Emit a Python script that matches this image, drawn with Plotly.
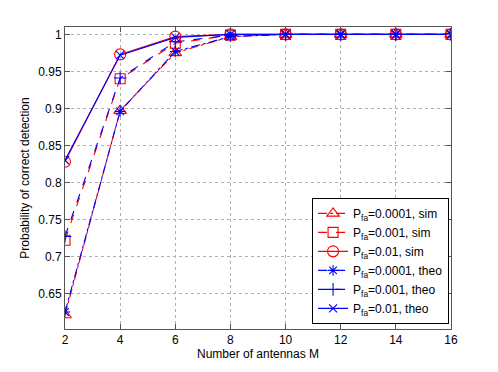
import plotly.graph_objects as go

# Number of antennas
M = [2, 4, 6, 8, 10, 12, 14, 16]

# simulated detection probability
sim_0001 = [0.621, 0.897, 0.975, 0.997, 1.0, 1.0, 1.0, 1.0]
sim_001 = [0.722, 0.940, 0.988, 0.999, 1.0, 1.0, 1.0, 1.0]
sim_01 = [0.828, 0.973, 0.997, 1.0, 1.0, 1.0, 1.0, 1.0]

# theoretical detection probability
theo_0001 = [0.625, 0.896, 0.977, 0.997, 1.0, 1.0, 1.0, 1.0]
theo_001 = [0.727, 0.941, 0.990, 0.999, 1.0, 1.0, 1.0, 1.0]
theo_01 = [0.830, 0.972, 0.996, 1.0, 1.0, 1.0, 1.0, 1.0]

y_ticks = [0.65, 0.7, 0.75, 0.8, 0.85, 0.9, 0.95, 1]
y_labels = ['0.65', '0.7', '0.75', '0.8', '0.85', '0.9', '0.95', '1']

series = [
    (sim_0001, 'P<sub>fa</sub>=0.0001, sim', 'red', 'dashdot', 'triangle-up-open', 11),
    (sim_001, 'P<sub>fa</sub>=0.001, sim', 'red', 'dash', 'square-open', 10),
    (sim_01, 'P<sub>fa</sub>=0.01, sim', 'red', 'solid', 'circle-open', 11),
    (theo_0001, 'P<sub>fa</sub>=0.0001, theo', 'blue', 'dashdot', 'asterisk-open', 9),
    (theo_001, 'P<sub>fa</sub>=0.001, theo', 'blue', 'dash', 'cross-thin-open', 9),
    (theo_01, 'P<sub>fa</sub>=0.01, theo', 'blue', 'solid', 'x-thin-open', 8),
]

fig = go.Figure()
for vals, name, col, dash, sym, sz in series:
    fig.add_trace(go.Scatter(
        x=M, y=vals, name=name, mode='lines+markers',
        line=dict(color=col, width=1.1, dash=dash),
        marker=dict(symbol=sym, size=sz, color=col, line=dict(color=col, width=1.1)),
    ))

axis_common = dict(
    showline=True, linecolor='#555555', linewidth=1, mirror='ticks',
    ticks='inside', ticklen=5, tickcolor='#555555',
    showgrid=True, gridcolor='#b0b0b0', griddash='dot', gridwidth=1,
    zeroline=False, tickfont=dict(size=12, color='black'),
)

fig.update_xaxes(range=[2, 16], tickvals=M,
                 title=dict(text='Number of antennas M', font=dict(size=12), standoff=2),
                 **axis_common)
fig.update_yaxes(range=[0.602, 1.01], tickvals=y_ticks, ticktext=y_labels,
                 title=dict(text='Probability of correct detection', font=dict(size=12), standoff=6),
                 **axis_common)

# page body has an 8px margin, so the figure is sized and offset for it
fig.update_layout(
    width=490, height=364,
    margin=dict(l=57, r=47, t=19, b=43),
    paper_bgcolor='white', plot_bgcolor='white',
    font=dict(family='Liberation Sans, Arial, sans-serif', size=12, color='black'),
    showlegend=True,
    legend=dict(
        x=0.995, y=0.017, xanchor='right', yanchor='bottom',
        bgcolor='white', bordercolor='black', borderwidth=1,
        font=dict(size=12), tracegroupgap=0,
    ),
)

fig.write_html('out.html')
